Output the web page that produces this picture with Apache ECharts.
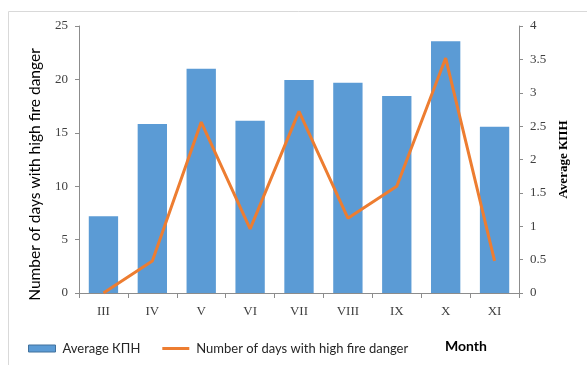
<!DOCTYPE html>
<html><head><meta charset="utf-8">
<script src="https://cdn.jsdelivr.net/npm/echarts@6/dist/echarts.min.js"></script>
<style>html,body{margin:0;padding:0;background:#fff}#c{width:587px;height:365px}</style>
</head><body><div id="c"></div>
<script>
const months = ['III','IV','V','VI','VII','VIII','IX','X','XI'];
const avgKPN = [1.15, 2.53, 3.36, 2.58, 3.19, 3.15, 2.95, 3.77, 2.49];
const highFireDays = [0, 3, 16, 6, 17, 7, 10, 22, 3];
const leftTicks = {min: 0, max: 25, interval: 5};
const rightTicks = {min: 0, max: 4, interval: 0.5};

const chart = echarts.init(document.getElementById('c'));
const axisColor = '#8c8c8c';
const labelStyle = {fontFamily: 'Liberation Serif', fontSize: 13, color: '#404040'};
chart.setOption({
  animation: false,
  grid: {left: 79, right: 68, top: 26, bottom: 72},
  graphic: [
    {type: 'rect', shape: {x: 8.5, y: 11.5, width: 600, height: 400}, style: {fill: 'none', stroke: '#d9d9d9', lineWidth: 1}, silent: true},
    {type: 'text', left: 445, top: 339, style: {text: 'Month', font: 'bold 14px Lato', fill: '#000'}}
  ],
  legend: {
    left: 23, top: 337,
    itemWidth: 27, itemHeight: 7, itemGap: 22,
    textStyle: {fontFamily: 'Lato', fontSize: 13, color: '#262626', padding: [0, 0, 0, 2]},
    data: [
      {name: 'Average КПН', icon: 'rect', itemStyle: {color: '#5b9bd5', borderColor: '#41719c', borderWidth: 1}},
      {name: 'Number of days with high fire danger', icon: 'path://M0 0H9V1H0Z', itemStyle: {color: '#ed7d31'}}
    ]
  },
  xAxis: {
    type: 'category', data: months,
    axisLine: {lineStyle: {color: axisColor}},
    axisTick: {show: true, length: 5, lineStyle: {color: axisColor}},
    axisLabel: Object.assign({margin: 12}, labelStyle)
  },
  yAxis: [
    Object.assign({
      type: 'value', position: 'left',
      name: 'Number of days with high fire danger', nameLocation: 'middle', nameGap: 36, nameRotate: 90,
      nameTextStyle: {fontFamily: 'Lato', fontSize: 15.5, color: '#000', padding: [0, 30, 0, 0]},
      axisLine: {show: true, lineStyle: {color: axisColor}},
      axisTick: {show: true, length: 4, lineStyle: {color: axisColor}},
      splitLine: {show: false},
      axisLabel: Object.assign({margin: 11}, labelStyle)
    }, leftTicks),
    Object.assign({
      type: 'value', position: 'right',
      name: 'Average КПН', nameLocation: 'middle', nameGap: 38, nameRotate: 90,
      nameTextStyle: {fontFamily: 'Liberation Serif', fontSize: 13, fontWeight: 'bold', color: '#000'},
      axisLine: {show: true, lineStyle: {color: axisColor}},
      axisTick: {show: true, length: 4, lineStyle: {color: axisColor}},
      splitLine: {show: false},
      axisLabel: Object.assign({margin: 11}, labelStyle)
    }, rightTicks)
  ],
  series: [
    {name: 'Average КПН', type: 'bar', yAxisIndex: 1, data: avgKPN, barWidth: '60%',
     itemStyle: {color: '#5b9bd5'}},
    {name: 'Number of days with high fire danger', type: 'line', yAxisIndex: 0, data: highFireDays,
     symbol: 'none', lineStyle: {color: '#ed7d31', width: 3}, itemStyle: {color: '#ed7d31'}}
  ]
});
</script></body></html>
